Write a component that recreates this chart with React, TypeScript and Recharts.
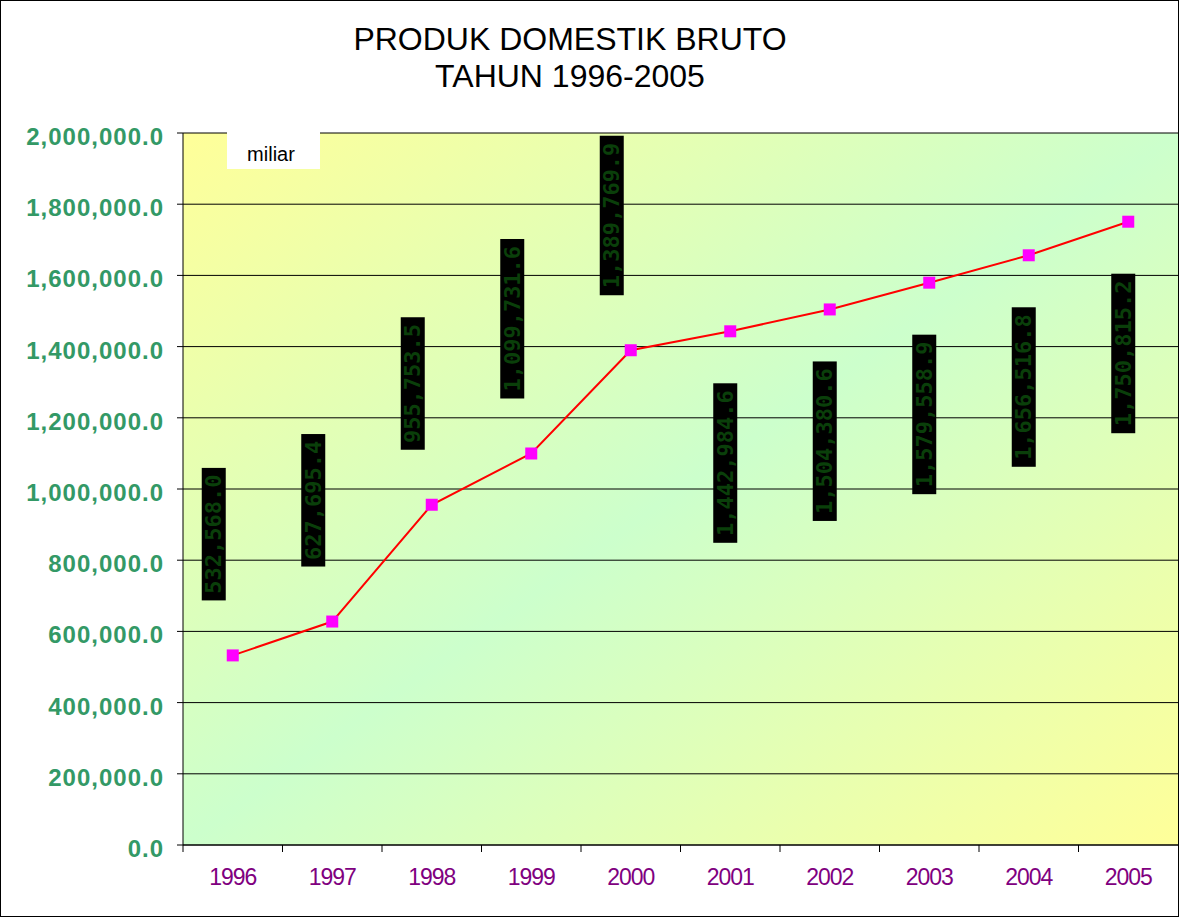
import React from "react";
import { LineChart, Line, XAxis, YAxis, CartesianGrid, LabelList } from "recharts";

const YEARS = ["1996", "1997", "1998", "1999", "2000", "2001", "2002", "2003", "2004", "2005"];
// PDB, miliar rupiah
const PDB = [532568.0, 627695.4, 955753.5, 1099731.6, 1389769.9, 1442984.6, 1504380.6, 1579558.9, 1656516.8, 1750815.2];
const Y_TICKS = [0, 200000, 400000, 600000, 800000, 1000000, 1200000, 1400000, 1600000, 1800000, 2000000];

const W = 1180;
const H = 917;
const PLOT_LEFT = 183;
const PLOT_RIGHT = 1178;
const HALF_BAND = (PLOT_RIGHT - PLOT_LEFT) / YEARS.length / 2;
const FONT = "'Liberation Sans', Arial, sans-serif";

const data = YEARS.map((year, i) => ({ year, pdb: PDB[i] }));

const fmt = (v: number) =>
  v.toLocaleString("en-US", { minimumFractionDigits: 1, maximumFractionDigits: 1 });

function YTick(props: any) {
  const { x, y, payload } = props;
  return (
    <text x={x} y={y + 12} textAnchor="end" fontFamily={FONT} fontWeight="bold" fontSize={24}
      letterSpacing={1} fill="#339966">
      {fmt(payload.value)}
    </text>
  );
}

function XTick(props: any) {
  const { x, y, payload } = props;
  return (
    <g>
      <line x1={x - HALF_BAND} x2={x - HALF_BAND} y1={y} y2={y + 7} stroke="#000" />
      <text x={x} y={y + 40} textAnchor="middle" fontFamily={FONT} fontSize={23}
        letterSpacing={-1} fill="#800080">
        {payload.value}
      </text>
    </g>
  );
}

function SquareDot(props: any) {
  const { cx, cy, index } = props;
  if (cx == null || cy == null) return null;
  return <rect key={`dot-${index}`} x={cx - 6} y={cy - 6} width={12} height={12} fill="#FF00FF" />;
}

// rotated value tags on black, as in the original sheet
function ValueTag(props: any) {
  const x = props.x ?? props.viewBox?.x;
  const y = props.y ?? props.viewBox?.y;
  const { value, index } = props;
  if (x == null || y == null) return null;
  const text = fmt(Number(value));
  const h = text.length * 13.5 + 11;
  const above = index < 5;
  const cx = x + (above ? -19 : -5);
  const top = above ? y - 55 - h : y + 52;
  return (
    <g>
      <rect x={cx - 12} y={top} width={24} height={h} fill="#000" />
      <text
        transform={`translate(${cx},${top + h / 2}) rotate(-90)`}
        textAnchor="middle"
        dominantBaseline="central"
        fontFamily="'DejaVu Sans Mono', monospace"
        fontWeight="bold"
        fontSize={22}
        fill="#0A3F0A"
      >
        {text}
      </text>
    </g>
  );
}

export default function App() {
  return (
    <div style={{ position: "absolute", left: 0, top: 0, width: W, height: H, background: "#fff" }}>
      <LineChart width={W} height={H} data={data} margin={{ top: 133, right: W - PLOT_RIGHT, bottom: 0, left: 0 }}>
        <defs>
          <linearGradient id="plotBg" x1="0" y1="0" x2="1" y2="1">
            <stop offset="0%" stopColor="#FFFF99" />
            <stop offset="50%" stopColor="#CCFFCC" />
            <stop offset="100%" stopColor="#FFFF99" />
          </linearGradient>
        </defs>
        <CartesianGrid vertical={false} stroke="#000" fill="url(#plotBg)" fillOpacity={1} />
        <XAxis
          dataKey="year"
          height={72}
          padding={{ left: HALF_BAND, right: HALF_BAND }}
          axisLine={{ stroke: "#000" }}
          tickLine={false}
          tickSize={0}
          tickMargin={0}
          interval={0}
          tick={<XTick />}
        />
        <YAxis
          width={PLOT_LEFT}
          domain={[0, 2000000]}
          ticks={Y_TICKS}
          interval={0}
          axisLine={{ stroke: "#000" }}
          tickLine={{ stroke: "#000" }}
          tickSize={6}
          tickMargin={13}
          tick={<YTick />}
        />
        <Line
          dataKey="pdb"
          stroke="#FF0000"
          strokeWidth={2}
          dot={<SquareDot />}
          activeDot={false}
          isAnimationActive={false}
        >
          <LabelList dataKey="pdb" content={<ValueTag />} />
        </Line>
      </LineChart>
      <svg width={W} height={H} style={{ position: "absolute", left: 0, top: 0, pointerEvents: "none" }}>
        <rect x={0.5} y={0.5} width={1178} height={916} fill="none" stroke="#000" />
        <text x={570} y={50} textAnchor="middle" fontFamily={FONT} fontSize={32} fill="#000">
          PRODUK DOMESTIK BRUTO
        </text>
        <text x={570} y={87} textAnchor="middle" fontFamily={FONT} fontSize={32} fill="#000">
          TAHUN 1996-2005
        </text>
        <rect x={227} y={132} width={93} height={37} fill="#fff" />
        <text x={271} y={161} textAnchor="middle" fontFamily={FONT} fontSize={20} fill="#000">
          miliar
        </text>
      </svg>
    </div>
  );
}
